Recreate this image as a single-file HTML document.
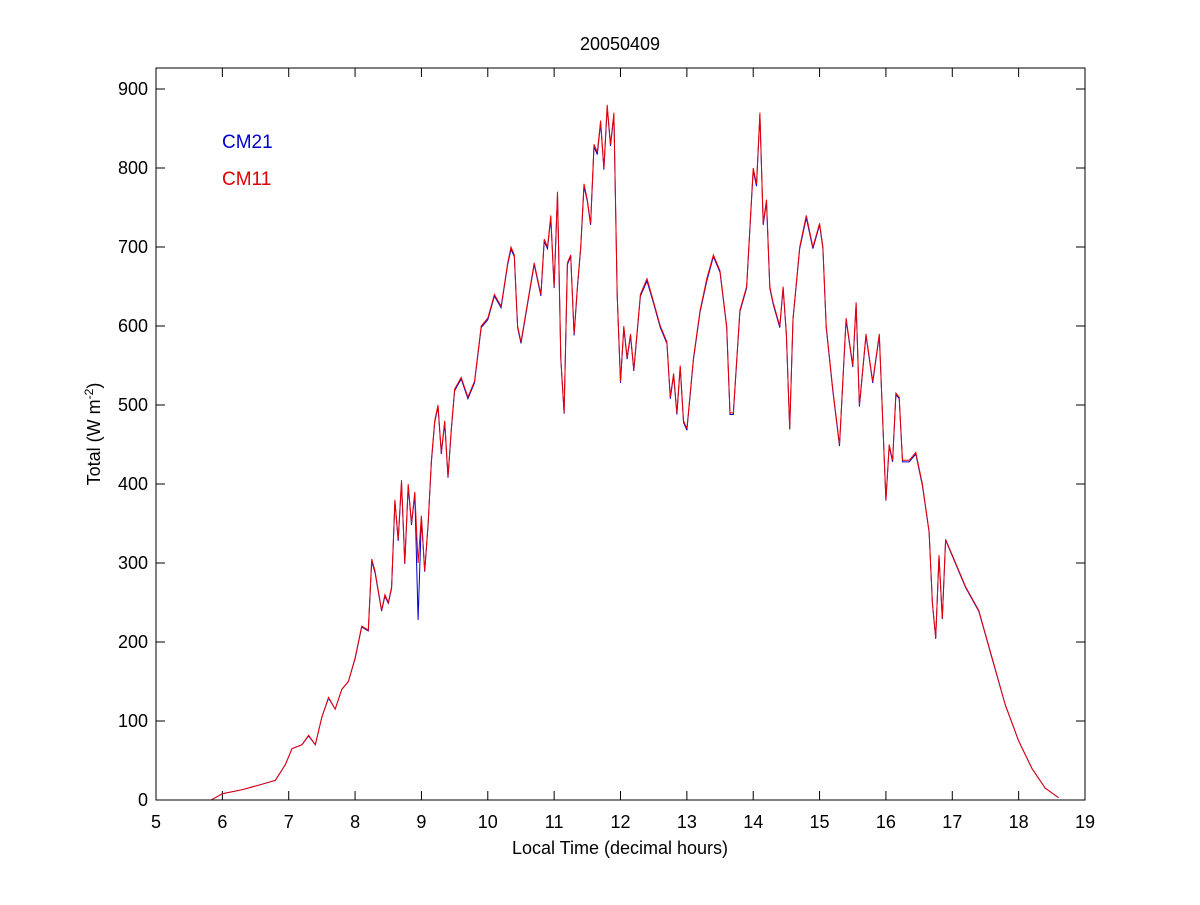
<!DOCTYPE html>
<html><head><meta charset="utf-8"><style>
body{margin:0;background:#fff;}
svg text{font-family:"Liberation Sans",Arial,sans-serif;}
</style></head><body>
<svg id="chart" width="1200" height="900" xmlns="http://www.w3.org/2000/svg">
<rect width="1200" height="900" fill="#fff"/>
<text x="620" y="50" font-size="18" text-anchor="middle">20050409</text>
<text x="620" y="854" font-size="18" text-anchor="middle">Local Time (decimal hours)</text>
<text transform="translate(100,434) rotate(-90)" font-size="18" text-anchor="middle">Total (W m<tspan dy="-7" font-size="12">-2</tspan><tspan dy="7">)</tspan></text>
<g id="axes"></g>
<g id="series"></g>
<text x="222" y="148" font-size="19" fill="#0000cc">CM21</text>
<text x="222" y="185" font-size="19" fill="#dd0000">CM11</text>
<rect x="156" y="68" width="929" height="732" fill="none" stroke="#000" stroke-width="1"/>
</svg>
<script>
const xTicks=[5,6,7,8,9,10,11,12,13,14,15,16,17,18,19];
const yTicks=[0,100,200,300,400,500,600,700,800,900];
const times=[5.83,6.0,6.3,6.6,6.8,6.95,7.05,7.2,7.3,7.4,7.5,7.6,7.7,7.8,7.9,8.0,8.1,8.2,8.25,8.3,8.4,8.45,8.5,8.55,8.6,8.65,8.7,8.75,8.8,8.85,8.9,8.95,9.0,9.05,9.1,9.15,9.2,9.25,9.3,9.35,9.4,9.45,9.5,9.6,9.7,9.8,9.9,10.0,10.1,10.2,10.3,10.35,10.4,10.45,10.5,10.6,10.7,10.8,10.85,10.9,10.95,11.0,11.05,11.1,11.15,11.2,11.25,11.3,11.35,11.4,11.45,11.5,11.55,11.6,11.65,11.7,11.75,11.8,11.85,11.9,11.95,12.0,12.05,12.1,12.15,12.2,12.3,12.4,12.5,12.6,12.7,12.75,12.8,12.85,12.9,12.95,13.0,13.1,13.2,13.3,13.4,13.5,13.6,13.65,13.7,13.8,13.9,14.0,14.05,14.1,14.15,14.2,14.25,14.3,14.4,14.45,14.5,14.55,14.6,14.7,14.8,14.9,15.0,15.05,15.1,15.15,15.2,15.3,15.4,15.5,15.55,15.6,15.7,15.8,15.9,16.0,16.05,16.1,16.15,16.2,16.25,16.35,16.45,16.55,16.65,16.7,16.75,16.8,16.85,16.9,17.0,17.2,17.4,17.6,17.8,18.0,18.2,18.4,18.6];
const cm11=[0,8,13,20,25,45,65,70,82,70,105,130,115,140,150,180,220,215,305,290,240,260,250,270,380,330,405,300,400,350,390,300,360,290,350,430,480,500,440,480,410,470,520,535,510,530,600,610,640,625,680,700,690,600,580,630,680,640,710,700,740,650,770,560,490,680,690,590,650,700,780,760,730,830,820,860,800,880,830,870,640,530,600,560,590,545,640,660,630,600,580,510,540,490,550,480,470,560,620,660,690,670,600,490,490,620,650,800,780,870,730,760,650,630,600,650,590,470,610,700,740,700,730,700,600,560,520,450,610,550,630,500,590,530,590,380,450,430,515,510,430,430,440,400,340,250,205,310,230,330,310,270,240,180,120,75,40,15,3];
const cm21=[0,8,13,20,25,45,65,70,81,70,105,129,115,140,150,179,219,214,302,288,239,258,249,268,378,328,402,299,397,348,388,228,358,289,348,428,478,498,438,478,408,468,518,533,508,528,598,608,638,623,678,697,688,598,578,628,678,638,707,698,737,648,767,558,489,678,688,588,648,698,777,758,728,827,817,857,798,877,828,867,638,528,598,558,588,543,638,657,628,598,578,508,538,488,548,478,468,558,618,657,688,668,598,488,488,618,648,797,777,867,728,757,648,628,598,648,588,469,608,698,737,698,728,698,598,558,518,448,608,548,628,498,588,528,588,379,448,428,513,508,428,428,438,398,339,249,204,309,229,329,309,269,239,179,120,75,40,15,3];
const X0=156,X1=1085,Y0=800,Y1=89;
const xs=t=>X0+(t-5)*(X1-X0)/14;
const ys=v=>Y0-v*(Y0-Y1)/900;
const NS='http://www.w3.org/2000/svg';
const axes=document.getElementById('axes');
function mk(tag,attrs,parent){const e=document.createElementNS(NS,tag);for(const k in attrs)e.setAttribute(k,attrs[k]);parent.appendChild(e);return e;}
xTicks.forEach(t=>{
 const x=xs(t);
 const l1=mk('line',{x1:x,x2:x,y1:800,y2:791,stroke:'#000'},axes);
 
 
 const l2=mk('line',{x1:x,x2:x,y1:68,y2:77,stroke:'#000'},axes);
 
 
 const tx=mk('text',{x:x,y:828,'font-size':18,'text-anchor':'middle'},axes);
 tx.textContent=t;
 
 
});
yTicks.forEach(v=>{
 const y=ys(v);
 const l1=mk('line',{x1:156,x2:165,y1:y,y2:y,stroke:'#000'},axes);
 
 
 const l2=mk('line',{x1:1076,x2:1085,y1:y,y2:y,stroke:'#000'},axes);
 
 
 const tx=mk('text',{x:148,y:y+6,'font-size':18,'text-anchor':'end'},axes);
 tx.textContent=v;
 
 
});
const sg=document.getElementById('series');
function line(vals,color,name){
 const d=times.map((t,i)=>(i?'L':'M')+xs(t).toFixed(1)+','+ys(vals[i]).toFixed(1)).join('');
 const p=mk('path',{d:d,fill:'none',stroke:color,'stroke-width':1},sg);
 
 
}
line(cm21,'#0000cc','cm21-line');
line(cm11,'#ee0000','cm11-line');
</script>
</body></html>
